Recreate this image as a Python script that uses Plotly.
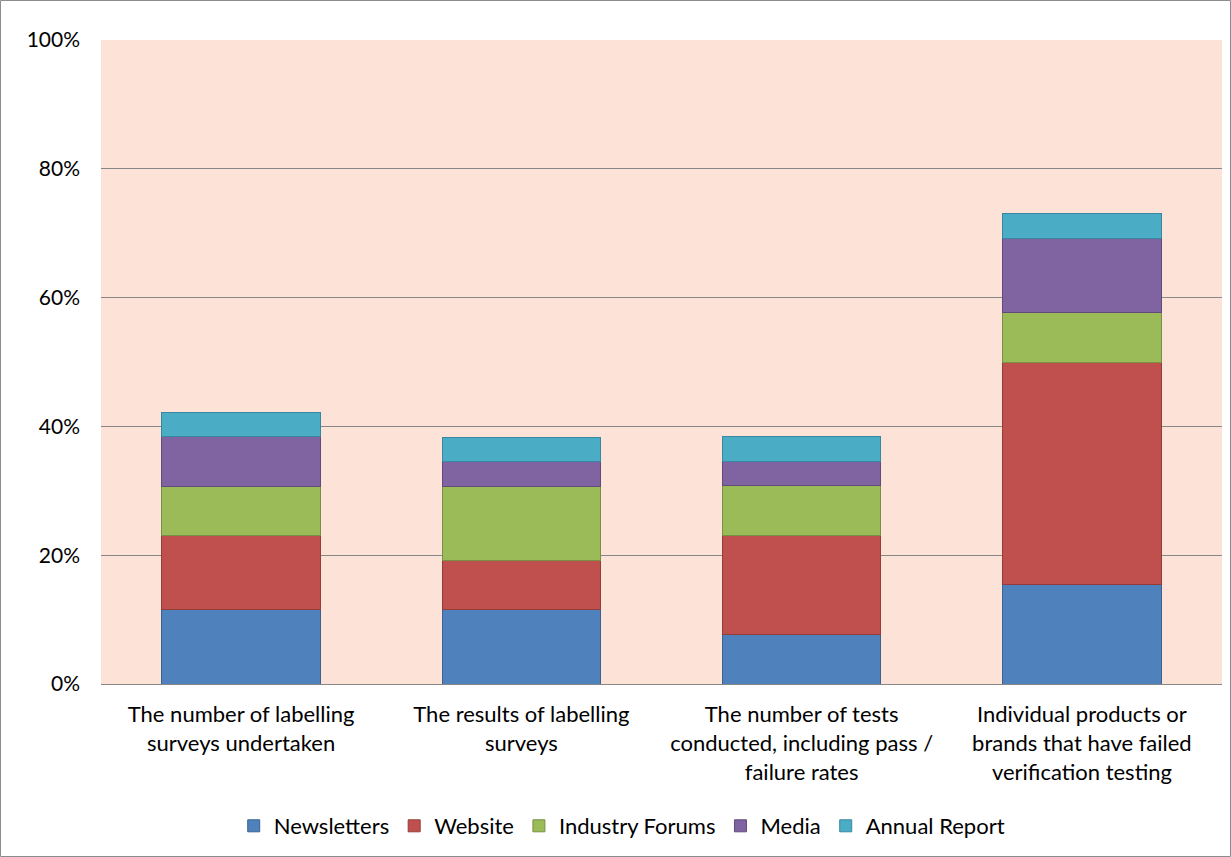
import plotly.graph_objects as go

categories = [
    "The number of labelling<br>surveys undertaken",
    "The results of labelling<br>surveys",
    "The number of tests<br>conducted, including pass /<br>failure rates",
    "Individual products or<br>brands that have failed<br>verification testing",
]
newsletters = [11.5, 11.5, 7.7, 15.4]
website = [11.5, 7.7, 15.4, 34.6]
industry_forums = [7.7, 11.5, 7.7, 7.7]
media = [7.7, 3.8, 3.8, 11.5]
annual_report = [3.8, 3.8, 3.8, 3.8]

series = [
    ("Newsletters", newsletters, "#4F81BD", "#3A6291"),
    ("Website", website, "#C0504D", "#943C3A"),
    ("Industry Forums", industry_forums, "#9BBB59", "#779043"),
    ("Media", media, "#8064A2", "#604B7B"),
    ("Annual Report", annual_report, "#4BACC6", "#3886A0"),
]

fig = go.Figure()
for name, vals, col, edge in series:
    fig.add_trace(go.Bar(
        x=categories, y=vals, name=name,
        marker=dict(color=col, line=dict(color=edge, width=1)),
    ))

W, H = 1231, 857
l, r, t, b = 101, 9, 40, 173
pw, ph = W - l - r, H - t - b

fig.update_layout(
    width=W, height=H,
    barmode="stack", bargap=0.435,
    margin=dict(l=l, r=r, t=t, b=b),
    paper_bgcolor="white", plot_bgcolor="#FDE2D8",
    font=dict(family="Lato, Open Sans, sans-serif", size=21, color="black"),
    legend=dict(orientation="h", x=0.4645, xanchor="center", y=-0.2205, yanchor="middle",
                font=dict(size=22), traceorder="normal", itemwidth=30),
    showlegend=True,
)
fig.update_yaxes(range=[0, 100], tickvals=[0, 20, 40, 60, 80, 100],
                 ticktext=["0%", "20%", "40%", "60%", "80%", "100%"],
                 showgrid=True, gridcolor="#868686", gridwidth=1,
                 showline=False, ticks="", ticklabelstandoff=20, zeroline=False)
fig.update_xaxes(showline=True, linecolor="#868686", linewidth=1, ticks="", tickangle=0,
                 tickfont=dict(size=22), ticklabelstandoff=11)

fig.add_shape(type="rect", xref="paper", yref="paper",
              x0=(0.5 - l) / pw, x1=(W - 0.5 - l) / pw,
              y0=(t + ph - (H - 0.5)) / ph, y1=(t + ph - 0.5) / ph,
              line=dict(color="#8C8C8C", width=1), fillcolor="rgba(0,0,0,0)", layer="below")

fig.write_html("out.html", config={"displayModeBar": False},
               post_script="document.body.style.margin='0px';document.body.style.overflow='hidden';")
